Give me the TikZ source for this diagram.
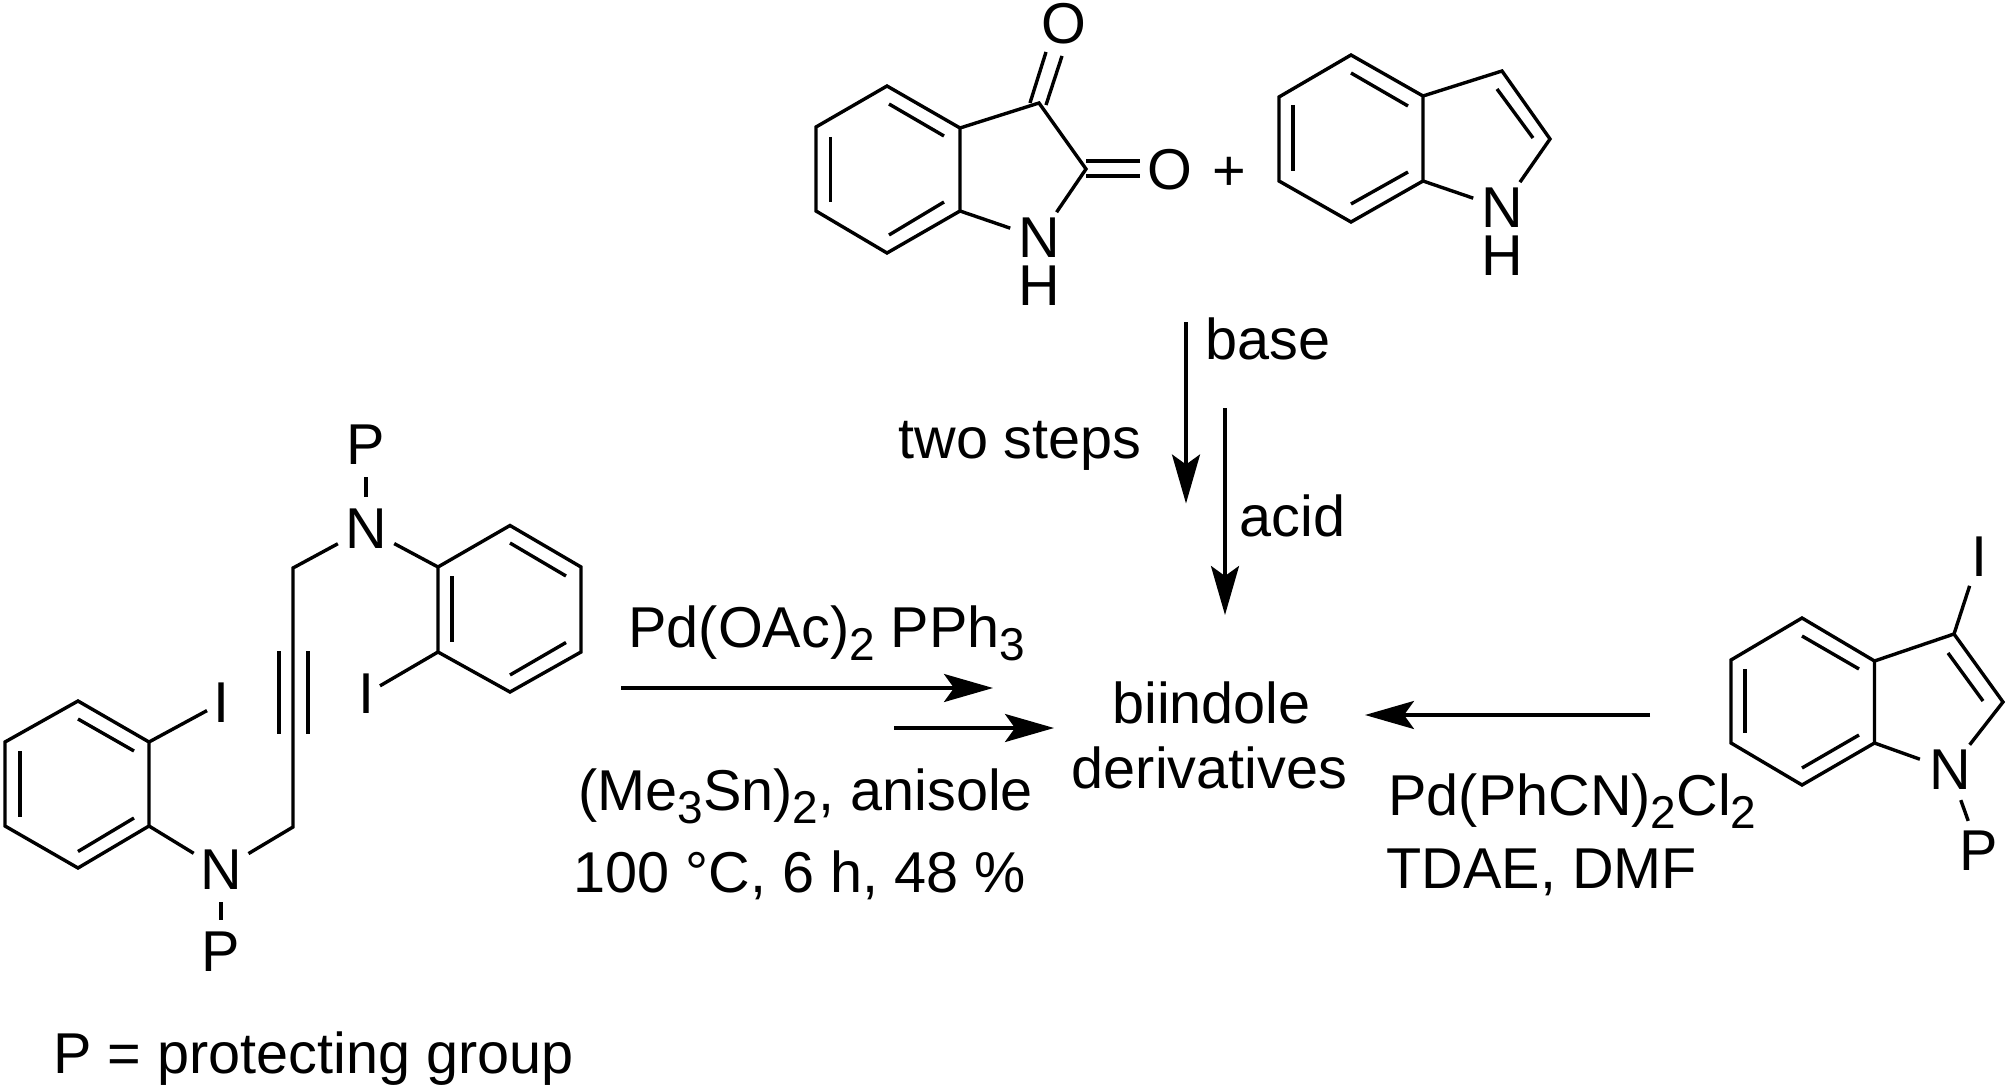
\documentclass[tikz,border=0pt]{standalone}
\usepackage{fontspec}
\setmainfont{Liberation Sans}
\usetikzlibrary{arrows, arrows.meta}
\newcommand{\lowidx}[1]{\raisebox{-6.5pt}{\fontsize{23}{23}\selectfont #1}}
\tikzset{
  bond/.style={line width=1.7pt},
  rxn/.style={line width=1.7pt, -{Stealth[length=24.5pt,width=14pt,inset=5pt]}},
  atom/.style={circle, inner sep=0pt, outer sep=0pt, minimum size=32pt},
  nhatom/.style={rectangle, inner xsep=4pt, inner ysep=3pt, outer sep=0pt},
  hatom/.style={inner sep=0pt, outer sep=0pt},
  iodo/.style={rectangle, inner xsep=3pt, inner ysep=4.5pt, outer sep=0pt},
  cond/.style={anchor=base west, inner sep=0pt},
  prod/.style={anchor=base, inner sep=0pt}
}
\begin{document}
\begin{tikzpicture}[x=0.5pt, y=-0.5pt, font=\fontsize{28.8}{32}\selectfont]
    \useasboundingbox (0,0) rectangle (2008,1086);
    % isatin
    \coordinate (a1) at (887,86);
    \coordinate (a2) at (960,128);
    \coordinate (a3) at (960,211);
    \coordinate (a4) at (887,253);
    \coordinate (a5) at (816,211);
    \coordinate (a6) at (816,127);
    \coordinate (a7) at (1039,103);
    \coordinate (a8) at (1086,169);
    \node [nhatom] (isn) at (1039,238) {N};
    \node [hatom] (ish) at (1039,286) {H};
    \node [atom] (iso1) at (1064,24) {O};
    \node [atom] (iso2) at (1170,170) {O};
    \node [atom] (plus) at (1229,174) {+};
    \draw [bond] (a1) -- (a2) -- (a3) -- (a4) -- (a5) -- (a6) -- cycle;
    \draw [bond] (a2) -- (a7) -- (a8) -- (isn);
    \draw [bond] (a3) -- (isn);
    \draw [bond] (889,104) -- (944,136);
    \draw [bond] (944,202) -- (889,235);
    \draw [bond] (830.5,137) -- (830.5,202);
    \draw [bond] (1030,103) -- (1046,52);
    \draw [bond] (1046,105) -- (1062,56);
    \draw [bond] (1086,161) -- (1140,161);
    \draw [bond] (1086,176) -- (1140,176);
    % indole
    \coordinate (b1) at (1351,55);
    \coordinate (b2) at (1423,96);
    \coordinate (b3) at (1423,181);
    \coordinate (b4) at (1351,222);
    \coordinate (b5) at (1279,181);
    \coordinate (b6) at (1279,97);
    \coordinate (b7) at (1502,71);
    \coordinate (b8) at (1550,139);
    \node [nhatom] (indn) at (1502,208) {N};
    \node [hatom] (indh) at (1502,256) {H};
    \draw [bond] (b1) -- (b2) -- (b3) -- (b4) -- (b5) -- (b6) -- cycle;
    \draw [bond] (b2) -- (b7) -- (b8) -- (indn);
    \draw [bond] (b3) -- (indn);
    \draw [bond] (1351,73) -- (1408,106);
    \draw [bond] (1408,172) -- (1351,204);
    \draw [bond] (1293,105) -- (1293,171);
    \draw [bond] (1497,89) -- (1533,138);
    % diyne side
    \coordinate (u1) at (438,567);
    \coordinate (u2) at (510,525.5);
    \coordinate (u3) at (581,567);
    \coordinate (u4) at (581,652);
    \coordinate (u5) at (510,692);
    \coordinate (u6) at (438,652);
    \coordinate (l1) at (149,742);
    \coordinate (l2) at (78,701);
    \coordinate (l3) at (5,742);
    \coordinate (l4) at (5,826);
    \coordinate (l5) at (78,868);
    \coordinate (l6) at (149,826);
    \coordinate (chu) at (293,568);
    \coordinate (chl) at (293,827);
    \node [atom] (nup) at (366,528.5) {N};
    \node [atom] (pup) at (366,445) {P};
    \node [iodo] (iup) at (366,694) {I};
    \node [atom] (nlo) at (221,870) {N};
    \node [atom] (plo) at (221,952) {P};
    \node [iodo] (ilo) at (221,703) {I};
    \draw [bond] (u1) -- (u2) -- (u3) -- (u4) -- (u5) -- (u6) -- cycle;
    \draw [bond] (l1) -- (l2) -- (l3) -- (l4) -- (l5) -- (l6) -- cycle;
    \draw [bond] (nup) -- (pup);
    \draw [bond] (nup) -- (u1);
    \draw [bond] (nup) -- (chu) -- (chl) -- (nlo);
    \draw [bond] (u6) -- (iup);
    \draw [bond] (nlo) -- (plo);
    \draw [bond] (l6) -- (nlo);
    \draw [bond] (l1) -- (ilo);
    \draw [bond] (510,543) -- (566,576);
    \draw [bond] (566,642.5) -- (510,675);
    \draw [bond] (452,576) -- (452,642);
    \draw [bond] (134,751) -- (78,719);
    \draw [bond] (78,851.5) -- (134,818);
    \draw [bond] (20,751) -- (20,817);
    \draw [bond] (279,651) -- (279,734);
    \draw [bond] (308,651) -- (308,734);
    \node [cond] (pgnote) at (53,1073) {P = protecting group};
    % iodoindole
    \coordinate (r1) at (1802,618);
    \coordinate (r2) at (1874.5,661);
    \coordinate (r3) at (1874.5,743);
    \coordinate (r4) at (1802,785);
    \coordinate (r5) at (1731,743);
    \coordinate (r6) at (1731,660);
    \coordinate (r7) at (1954,634);
    \coordinate (r8) at (2003,702);
    \node [atom] (rn) at (1950,770) {N};
    \node [atom] (rp) at (1979,851) {P};
    \node [iodo] (ri) at (1979,557) {I};
    \draw [bond] (r1) -- (r2) -- (r3) -- (r4) -- (r5) -- (r6) -- cycle;
    \draw [bond] (r2) -- (r7) -- (r8) -- (rn);
    \draw [bond] (r3) -- (rn);
    \draw [bond] (r7) -- (ri);
    \draw [bond] (rn) -- (rp);
    \draw [bond] (1802,636) -- (1859,669);
    \draw [bond] (1859,735) -- (1802,768);
    \draw [bond] (1745,669) -- (1745,733);
    \draw [bond] (1948,653) -- (1983,701);
    % arrows and conditions
    \coordinate (sa) at (1186,322);
    \coordinate (ea) at (1186,503.5);
    \coordinate (sb) at (1225,408);
    \coordinate (eb) at (1225,615);
    \coordinate (sc) at (621,688);
    \coordinate (ec) at (993,688);
    \coordinate (sd) at (894,728);
    \coordinate (ed) at (1054,728);
    \coordinate (se) at (1650,715);
    \coordinate (ee) at (1365,715);
    \draw [rxn] (sa) -- (ea);
    \draw [rxn] (sb) -- (eb);
    \draw [rxn] (sc) -- (ec);
    \draw [rxn] (sd) -- (ed);
    \draw [rxn] (se) -- (ee);
    \node [cond] (base) at (1205,359) {base};
    \node [cond] (steps) at (898,458) {two steps};
    \node [cond] (acid) at (1239,536) {acid};
    \node [cond] (pdoac) at (628,647) {Pd(OAc)\lowidx{2} PPh\lowidx{3}};
    \node [cond] (sn) at (578,810) {(Me\lowidx{3}Sn)\lowidx{2}, anisole};
    \node [cond] (temp) at (573,892) {100 °C, 6 h, 48 \%};
    \node [prod] (biin) at (1211.5,723) {biindole};
    \node [prod] (deriv) at (1209.5,788) {derivatives};
    \node [cond] (pdcn) at (1388,815) {Pd(PhCN)\lowidx{2}Cl\lowidx{2}};
    \node [cond] (tdae) at (1386,888) {TDAE, DMF};
  \end{tikzpicture}
\end{document}
